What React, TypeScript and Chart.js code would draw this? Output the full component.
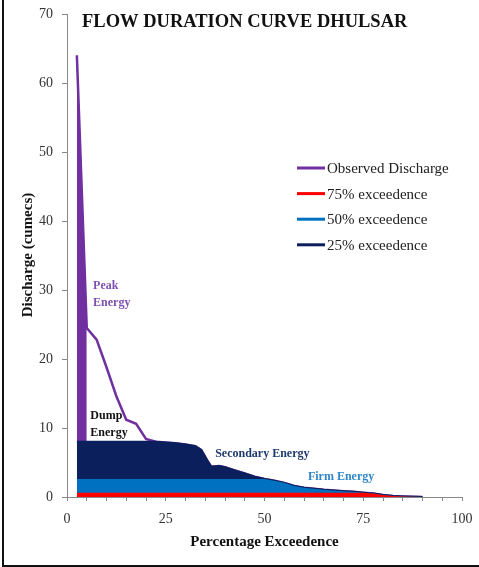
import React, { useEffect, useRef } from "react";
import { Chart, registerables } from "chart.js";

Chart.register(...registerables);

// Percentage exceedence (x)
const exceedence = [2.5, 5, 7.5, 10, 12.5, 15, 17.5, 20, 22.5, 25, 27.5, 30, 32.5, 34, 35.5, 36.5, 38.5, 40, 42.5, 45, 47.5, 50, 52.5, 55, 57.5, 60, 62.5, 65, 67.5, 70, 72.5, 75, 77.5, 80, 82.5, 85, 87.5, 90];
// Observed discharge (cumecs)
const observed = [64, 24.5, 22.8, 18.8, 14.6, 11.2, 10.6, 8.4, 8.0, 7.9, 7.8, 7.6, 7.35, 6.8, 5.3, 4.4, 4.5, 4.3, 3.85, 3.4, 2.95, 2.6, 2.35, 2.05, 1.6, 1.35, 1.2, 1.05, 0.95, 0.85, 0.75, 0.62, 0.5, 0.3, 0.15, 0.07, 0.02, 0];
// 25% exceedence band (dark navy)
const q25 = [8, 8, 8, 8, 8, 8, 8, 8, 8, 7.9, 7.8, 7.6, 7.35, 6.8, 5.3, 4.4, 4.5, 4.3, 3.85, 3.4, 2.95, 2.6, 2.35, 2.05, 1.6, 1.35, 1.2, 1.05, 0.95, 0.85, 0.75, 0.62, 0.5, 0.3, 0.15, 0.07, 0.02, 0];
// 50% exceedence band (blue)
const q50 = [2.6, 2.6, 2.6, 2.6, 2.6, 2.6, 2.6, 2.6, 2.6, 2.6, 2.6, 2.6, 2.6, 2.6, 2.6, 2.6, 2.6, 2.6, 2.6, 2.6, 2.6, 2.6, 2.35, 2.05, 1.6, 1.35, 1.2, 1.05, 0.95, 0.85, 0.75, 0.62, 0.5, 0.3, 0.15, 0.07, 0.02, 0];
// 75% exceedence band (red)
const q75 = [0.6, 0.6, 0.6, 0.6, 0.6, 0.6, 0.6, 0.6, 0.6, 0.6, 0.6, 0.6, 0.6, 0.6, 0.6, 0.6, 0.6, 0.6, 0.6, 0.6, 0.6, 0.6, 0.6, 0.6, 0.6, 0.6, 0.6, 0.6, 0.6, 0.6, 0.6, 0.6, 0.5, 0.3, 0.15, 0.07, 0.02, 0];
// Peak energy fill (purple)
const peakX = [2.5, 5];
const peakY = [64, 24.5];

const legendLabels = ["Observed Discharge", "75% exceedence", "50% exceedence", "25% exceedence"];
const title = "FLOW DURATION CURVE DHULSAR";
const xTitle = "Percentage Exceedence";
const yTitle = "Discharge (cumecs)";

const PURPLE = "#7030A0";
const RED = "#FF0000";
const BLUE = "#0070C0";
const NAVY = "#0A1F5C";
const SERIF = '"Liberation Serif", "DejaVu Serif", serif';

const pts = (xs: number[], ys: number[]) => xs.map((x, i) => ({ x, y: ys[i] }));

const decor = {
  id: "decor",
  beforeDraw(chart: any) {
    const ctx = chart.ctx;
    ctx.save();
    ctx.fillStyle = "#ffffff";
    ctx.fillRect(0, 0, chart.width, chart.height);
    ctx.fillStyle = "#111";
    ctx.fillRect(2, 0, 2, chart.height);
    ctx.fillRect(2, chart.height - 2, chart.width - 2, 2);
    ctx.restore();
  },
  afterDraw(chart: any) {
    const ctx = chart.ctx;
    const xs = chart.scales.x;
    const ys = chart.scales.y;
    const area = chart.chartArea;
    ctx.save();
    // title
    ctx.fillStyle = "#111";
    ctx.font = `bold 18.5px ${SERIF}`;
    ctx.textAlign = "left";
    ctx.textBaseline = "alphabetic";
    ctx.fillText(title, 82, 27);
    // x title
    ctx.font = `bold 15px ${SERIF}`;
    ctx.textAlign = "center";
    ctx.fillText(xTitle, (area.left + area.right) / 2, 546);
    // y title
    ctx.save();
    ctx.translate(32, 255);
    ctx.rotate(-Math.PI / 2);
    ctx.font = `bold 15px ${SERIF}`;
    ctx.textAlign = "center";
    ctx.fillText(yTitle, 0, 0);
    ctx.restore();
    // legend
    const colors = [PURPLE, RED, BLUE, NAVY];
    ctx.font = `15px ${SERIF}`;
    ctx.textAlign = "left";
    ctx.textBaseline = "middle";
    legendLabels.forEach((lab, i) => {
      const y = 168 + i * 25.6;
      ctx.strokeStyle = colors[i];
      ctx.lineWidth = 3;
      ctx.beginPath();
      ctx.moveTo(297, y);
      ctx.lineTo(325, y);
      ctx.stroke();
      ctx.fillStyle = "#222";
      ctx.fillText(lab, 327, y + 1);
    });
    // annotations
    ctx.textBaseline = "alphabetic";
    ctx.font = `bold 12px ${SERIF}`;
    const label = (lines: string[], x: number, y: number, color: string) => {
      ctx.fillStyle = color;
      lines.forEach((t, i) => ctx.fillText(t, xs.getPixelForValue(x), ys.getPixelForValue(y) + i * 17));
    };
    label(["Peak", "Energy"], 6.6, 30.1, "#7D4FB0");
    label(["Dump", "Energy"], 5.9, 11.3, "#111");
    label(["Secondary Energy"], 37.5, 5.8, "#1F3A6E");
    label(["Firm Energy"], 61, 2.45, "#2F86C8");
    ctx.restore();
  },
};

export default function App() {
  const ref = useRef<HTMLCanvasElement>(null);
  useEffect(() => {
    if (!ref.current) return;
    const chart = new Chart(ref.current, {
      type: "line",
      data: {
        datasets: [
          { label: "Peak", data: pts(peakX, peakY), borderColor: PURPLE, backgroundColor: PURPLE, fill: "origin", borderWidth: 1, pointRadius: 0, order: 6 },
          { label: legendLabels[0], data: pts(exceedence, observed), borderColor: PURPLE, backgroundColor: PURPLE, fill: false, borderWidth: 2.5, pointRadius: 0, order: 5 },
          { label: legendLabels[3], data: pts(exceedence, q25), borderColor: NAVY, backgroundColor: NAVY, fill: "origin", borderWidth: 2, pointRadius: 0, order: 4 },
          { label: legendLabels[2], data: pts(exceedence, q50), borderColor: BLUE, backgroundColor: BLUE, fill: "origin", borderWidth: 0, pointRadius: 0, order: 3 },
          { label: legendLabels[1], data: pts(exceedence, q75), borderColor: RED, backgroundColor: RED, fill: "origin", borderWidth: 0, pointRadius: 0, order: 2 },
        ],
      },
      options: {
        responsive: false,
        animation: false,
        devicePixelRatio: 1,
        layout: { padding: { left: 0, top: 14, right: 17, bottom: 0 } },
        plugins: { legend: { display: false }, tooltip: { enabled: false }, title: { display: false } },
        elements: { line: { tension: 0 } },
        scales: {
          x: {
            type: "linear",
            min: 0,
            max: 100,
            afterFit: (s: any) => { s.height = 70; s.paddingRight = 0; s.paddingLeft = 0; },
            ticks: {
              stepSize: 5,
              autoSkip: false,
              maxRotation: 0,
              padding: 10,
              color: "#333",
              font: { family: SERIF, size: 14 },
              callback: (v: any) => (Number(v) % 25 === 0 ? String(v) : ""),
            },
            grid: { drawOnChartArea: false, drawTicks: true, tickLength: 4, color: "#888" },
            border: { color: "#888", width: 1 },
          },
          y: {
            min: 0,
            max: 70,
            afterFit: (s: any) => { s.width = 67; s.paddingTop = 0; s.paddingBottom = 0; },
            ticks: { stepSize: 10, padding: 9, color: "#333", font: { family: SERIF, size: 14 } },
            grid: { drawOnChartArea: false, drawTicks: true, tickLength: 5, color: "#888" },
            border: { color: "#888", width: 1 },
          },
        },
      },
      plugins: [decor],
    });
    return () => chart.destroy();
  }, []);
  return (
    <div style={{ position: "fixed", left: 0, top: 0, width: 479, height: 567, background: "#fff" }}>
      <canvas ref={ref} width={479} height={567} />
    </div>
  );
}
